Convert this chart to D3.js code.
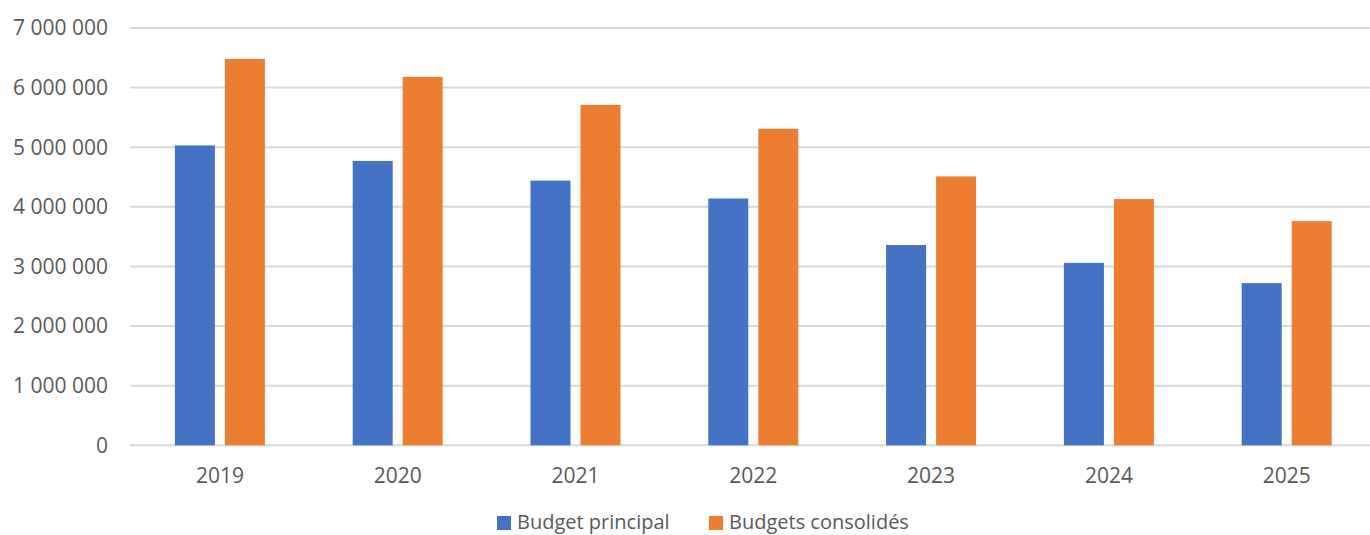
<!DOCTYPE html>
<html><head><meta charset="utf-8">
<script src="https://cdn.jsdelivr.net/npm/d3@7"></script>
<style>
html,body{margin:0;padding:0;background:#fff;}
svg{display:block;font-family:"Open Sans",sans-serif;}
</style></head>
<body>
<svg id="chart" width="1370" height="535"></svg>
<script>
const years = ["2019","2020","2021","2022","2023","2024","2025"];
const budgetPrincipal = [5030000, 4770000, 4440000, 4140000, 3360000, 3060000, 2720000];
const budgetsConsolides = [6480000, 6180000, 5710000, 5310000, 4510000, 4130000, 3760000];
const seriesNames = ["Budget principal", "Budgets consolidés"];
const yTicks = [0,1000000,2000000,3000000,4000000,5000000,6000000,7000000];

const colors = ["#4472C4", "#ED7D31"];
const svg = d3.select("#chart");
const x = d3.scaleBand().domain(years).range([131, 1375.6]).padding(0);
const y = d3.scaleLinear().domain([0, 7000000]).range([445.3, 28]);
const fmt = v => d3.format(",")(v).replace(/,/g, " ");

// gridlines
svg.append("g").selectAll("line").data(yTicks).join("line")
  .attr("x1", 130).attr("x2", 1370)
  .attr("y1", d => y(d)).attr("y2", d => y(d))
  .attr("stroke", "#d9d9d9").attr("stroke-width", 2);

// y labels
svg.append("g").selectAll("text").data(yTicks).join("text")
  .attr("x", 108).attr("y", d => y(d)).attr("dy", "0.35em")
  .attr("text-anchor", "end").attr("fill", "#595959")
  .style("font-size", "21px").text(d => fmt(d));

// bars
const barW = 40, gap = 10;
const series = [budgetPrincipal, budgetsConsolides];
series.forEach((vals, si) => {
  svg.append("g").selectAll("rect").data(vals).join("rect")
    .attr("x", (d, i) => x(years[i]) + x.bandwidth()/2 - (barW + gap/2) + si*(barW + gap))
    .attr("y", d => y(d))
    .attr("width", barW)
    .attr("height", d => y(0) - y(d))
    .attr("fill", colors[si]);
});

// x labels
svg.append("g").selectAll("text").data(years).join("text")
  .attr("x", d => x(d) + x.bandwidth()/2).attr("y", 476).attr("dy", "0.35em")
  .attr("text-anchor", "middle").attr("fill", "#595959")
  .style("font-size", "21px").text(d => d);

// legend
const legendItems = [{x: 497, name: seriesNames[0], c: colors[0]}, {x: 709, name: seriesNames[1], c: colors[1]}];
const lg = svg.append("g");
legendItems.forEach(it => {
  lg.append("rect").attr("x", it.x).attr("y", 516).attr("width", 14).attr("height", 14).attr("fill", it.c);
  lg.append("text").attr("x", it.x + 20).attr("y", 522).attr("dy", "0.35em")
    .attr("fill", "#595959").style("font-size", "20px").text(it.name);
});
</script>
</body></html>
